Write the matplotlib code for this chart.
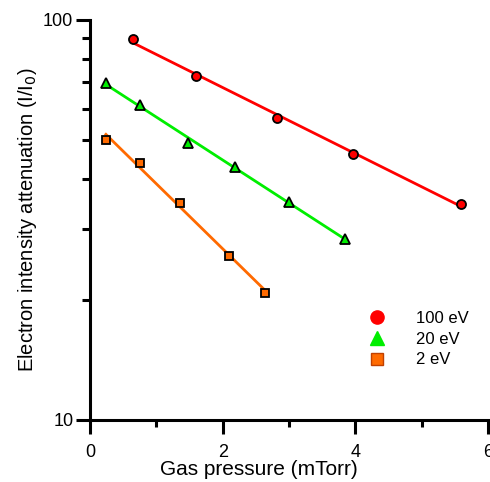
import numpy as np
import matplotlib
matplotlib.use("Agg")
import matplotlib.pyplot as plt
from matplotlib.ticker import FixedLocator, NullFormatter

plt.rcParams['font.family'] = ['Liberation Sans', 'DejaVu Sans']

# attenuation data for three electron energies
p_100 = [0.65, 1.60, 2.82, 3.97, 5.60]
a_100 = [89.6, 72.4, 56.9, 46.2, 34.7]
p_20 = [0.24, 0.75, 1.48, 2.19, 3.00, 3.85]
a_20 = [69.6, 61.3, 49.3, 42.9, 35.1, 28.3]
p_2 = [0.24, 0.75, 1.36, 2.10, 2.64]
a_2 = [50.1, 43.9, 34.9, 25.7, 20.8]

labels = ['100 eV', '20 eV', '2 eV']
colors = ['#ff0000', '#00ee00', '#ff6a00']
markers = ['o', '^', 's']
sizes = [6.5, 7.5, 5.5]


def fit_line(x, y):
    k, b = np.polyfit(x, np.log10(y), 1)
    xs = np.array([min(x), max(x)])
    return xs, 10 ** (k * xs + b)


fig = plt.figure(figsize=(4.9, 4.82), dpi=100)
ax = fig.add_axes([90 / 490, 62 / 482, 398 / 490, 400 / 482])

for x, y, c, m, s, lab in zip([p_100, p_20, p_2], [a_100, a_20, a_2],
                              colors, markers, sizes, labels):
    xs, ys = fit_line(x, y)
    ax.plot(xs, ys, color=c, lw=2, zorder=2)
    ax.plot(x, y, ls='none', marker=m, ms=s, mfc=c, mec='black',
            mew=1.3, zorder=3)
    # legend entries have no black outline
    ax.plot([], [], ls='none', marker=m, ms=s + 3, mfc=c,
            mec='#c04000' if m == 's' else c, mew=1, label=lab)

ax.set_yscale('log')
ax.set_xlim(0, 6)
ax.set_ylim(10, 100)

ax.xaxis.set_major_locator(FixedLocator([0, 2, 4, 6]))
ax.xaxis.set_minor_locator(FixedLocator([1, 3, 5]))
ax.yaxis.set_major_locator(FixedLocator([10, 100]))
ax.yaxis.set_minor_locator(FixedLocator([20, 30, 40, 50, 60, 70, 80, 90]))
ax.yaxis.set_minor_formatter(NullFormatter())
ax.set_yticklabels(['10', '100'])

for side in ['top', 'right']:
    ax.spines[side].set_visible(False)
for side in ['left', 'bottom']:
    ax.spines[side].set_linewidth(2.2)

ax.tick_params(which='major', direction='out', length=10, width=2.2,
               labelsize=13)
ax.tick_params(axis='y', which='major', pad=2)
ax.tick_params(axis='x', which='major', pad=7)
ax.tick_params(axis='y', which='minor', direction='out', length=6, width=2.2)
ax.tick_params(axis='x', which='minor', direction='out', length=5, width=2.2)

ax.set_xlabel('Gas pressure (mTorr)', fontsize=15)
ax.xaxis.set_label_coords(0.425, -0.1)
ax.set_ylabel('Electron intensity attenuation (I/I$_0$)', fontsize=14.5,
              labelpad=3)

ax.legend(loc='upper left', bbox_to_anchor=(0.68, 0.29), frameon=False,
          fontsize=12, handletextpad=1.7, labelspacing=0.35,
          borderaxespad=0, handlelength=1.2)

fig.savefig('out.png', dpi=100)
